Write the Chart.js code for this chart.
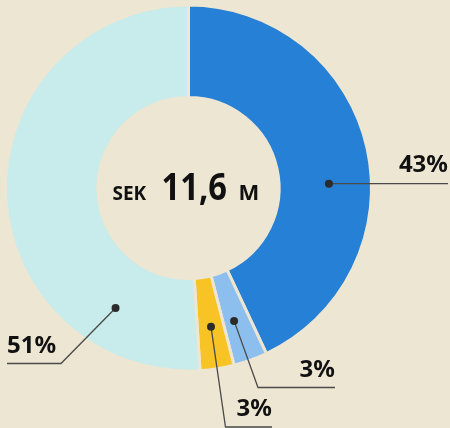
<!DOCTYPE html>
<html>
<head>
<meta charset="utf-8">
<script src="https://cdn.jsdelivr.net/npm/chart.js@4.4.1/dist/chart.umd.min.js"></script>
<style>
    html, body { margin: 0; padding: 0; background: #EDE6D3; }
    #wrap { width: 450px; height: 428px; }
</style>
</head>
<body>
<div id="wrap"><canvas id="donut" width="450" height="428"></canvas></div>
<script>
// Chart data
const categories = ['A', 'B', 'C', 'D'];
const shares = [43, 3, 3, 51];
const shareLabels = ['43%', '3%', '3%', '51%'];
const sliceColors = ['#2680D5', '#8DBFEE', '#F8C325', '#C8EBEB'];
const centerParts = ['SEK', '11,6', 'M'];

const BG = '#EDE6D3';

// Leader line layout per slice: where the dot sits inside the slice (t = fraction of angle),
// the elbow of the line, and the end of the horizontal rule
const leaders = [
    { t: 0.57, elbow: null, endX: 448, lineY: 183.3, align: 'right' },
    { t: 0.58, elbow: [258, 387.5], endX: 335, lineY: 387.5, align: 'right' },
    { t: 0.48, elbow: [225.5, 427], endX: 272, lineY: 427, align: 'right' },
    { t: 0.19, elbow: [61, 363.5], endX: 7, lineY: 363.5, align: 'left' }
];

const leaderPlugin = {
    id: 'leaders',
    afterDraw(chart) {
        const ctx = chart.ctx;
        const arcs = chart.getDatasetMeta(0).data;
        ctx.save();
        arcs.forEach((arc, i) => {
            const cfg = leaders[i];
            const ang = arc.startAngle + (arc.endAngle - arc.startAngle) * cfg.t;
            const r = arc.innerRadius + (arc.outerRadius - arc.innerRadius) * 0.54;
            const px = arc.x + Math.cos(ang) * r;
            const py = arc.y + Math.sin(ang) * r;

            ctx.strokeStyle = '#4a4a4a';
            ctx.lineWidth = 1.3;
            ctx.beginPath();
            ctx.moveTo(px, py);
            let hx = px;
            if (cfg.elbow) {
                ctx.lineTo(cfg.elbow[0], cfg.elbow[1]);
                hx = cfg.elbow[0];
            }
            ctx.lineTo(cfg.endX, cfg.elbow ? cfg.elbow[1] : py);
            ctx.stroke();

            ctx.fillStyle = '#2b2b2b';
            ctx.beginPath();
            ctx.arc(px, py, 4, 0, Math.PI * 2);
            ctx.fill();

            ctx.fillStyle = '#111';
            ctx.font = 'bold 24px "Noto Sans"';
            ctx.textBaseline = 'alphabetic';
            ctx.textAlign = cfg.align;
            ctx.fillText(shareLabels[i], cfg.endX, cfg.lineY - 11);
        });

        // centre total
        const cx = arcs[0].x, cy = arcs[0].y;
        const base = cy + 12;
        ctx.fillStyle = '#111';
        ctx.textAlign = 'left';
        ctx.font = 'bold 19px "Noto Sans"';
        ctx.fillText(centerParts[0], cx - 76, base);
        ctx.save();
        ctx.translate(cx - 27, base);
        ctx.scale(0.86, 1);
        ctx.font = 'bold 38px "Noto Sans"';
        ctx.fillText(centerParts[1], 0, 0);
        ctx.restore();
        ctx.font = 'bold 22px "Noto Sans"';
        ctx.fillText(centerParts[2], cx + 50, base);
        ctx.restore();
    }
};

new Chart(document.getElementById('donut'), {
    type: 'doughnut',
    data: {
        labels: categories,
        datasets: [{
            data: shares,
            backgroundColor: sliceColors,
            borderColor: BG,
            borderWidth: 3,
            hoverOffset: 0
        }]
    },
    options: {
        responsive: false,
        animation: false,
        devicePixelRatio: 1,
        cutout: '49.5%',
        layout: { padding: { left: 4, top: 3.5, right: 77, bottom: 55.5 } },
        plugins: {
            legend: { display: false },
            tooltip: { enabled: false }
        }
    },
    plugins: [leaderPlugin]
});
</script>
</body>
</html>
